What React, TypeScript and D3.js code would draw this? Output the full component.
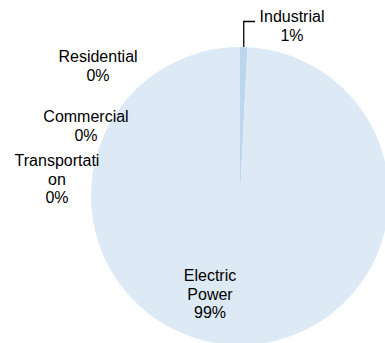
import React from "react";
import * as d3 from "d3";

const categories = ["Residential", "Commercial", "Industrial", "Transportation", "Electric Power"];
const values = [0, 0, 0.8, 0, 99.2];
const labelLines = [
  ["Residential", "0%"],
  ["Commercial", "0%"],
  ["Industrial", "1%"],
  ["Transportati", "on", "0%"],
  ["Electric", "Power", "99%"],
];

const W = 385;
const H = 343;
const CX = 240;
const CY = 196;
const R = 149;
const FONT = 16;
const LH = 18.5;
// label anchor (center x, first baseline y) — layout only
const labelPos: Record<string, [number, number]> = {
  Residential: [98, 62],
  Commercial: [86, 122],
  Industrial: [292, 22],
  Transportation: [57, 166],
  "Electric Power": [210, 281],
};
const fills: Record<string, string> = {
  Residential: "#dce8f4",
  Commercial: "#dce8f4",
  Industrial: "#bcd6ee",
  Transportation: "#dce8f4",
  "Electric Power": "#dde9f5",
};

export default function App() {
  const data = categories.map((c, i) => ({ c, v: values[i], lines: labelLines[i] }));
  const pie = d3.pie<any>().sort(null).value((d) => d.v).startAngle(0).endAngle(2 * Math.PI);
  const arcs = pie(data);
  const arc = d3.arc<any>().innerRadius(0).outerRadius(R);
  const ind = arcs[2];
  const mid = (ind.startAngle + ind.endAngle) / 2;
  const lx = CX + Math.sin(mid) * R;
  const ly = CY - Math.cos(mid) * R;
  return (
    <div style={{ position: "fixed", left: 0, top: 0 }}>
      <svg width={W} height={H} style={{ display: "block", background: "#fff" }}>
        <g transform={`translate(${CX},${CY})`}>
          {arcs.map((a, i) =>
            a.endAngle - a.startAngle > 0 ? (
              <path key={i} d={arc(a) || ""} fill={fills[a.data.c]} />
            ) : null
          )}
        </g>
        <polyline
          points={`${lx},${ly} ${lx},${22 - 0.5} ${255},${22 - 0.5}`}
          fill="none"
          stroke="#000"
          strokeWidth={1.3}
        />
        {data.map((d) => {
          const [x, y] = labelPos[d.c];
          return (
            <text
              key={d.c}
              x={x}
              y={y}
              textAnchor="middle"
              fontFamily="Liberation Sans, Arial, sans-serif"
              fontSize={FONT}
              fill="#000"
            >
              {d.lines.map((l, j) => (
                <tspan key={j} x={x} y={y + j * LH}>
                  {l}
                </tspan>
              ))}
            </text>
          );
        })}
      </svg>
    </div>
  );
}
